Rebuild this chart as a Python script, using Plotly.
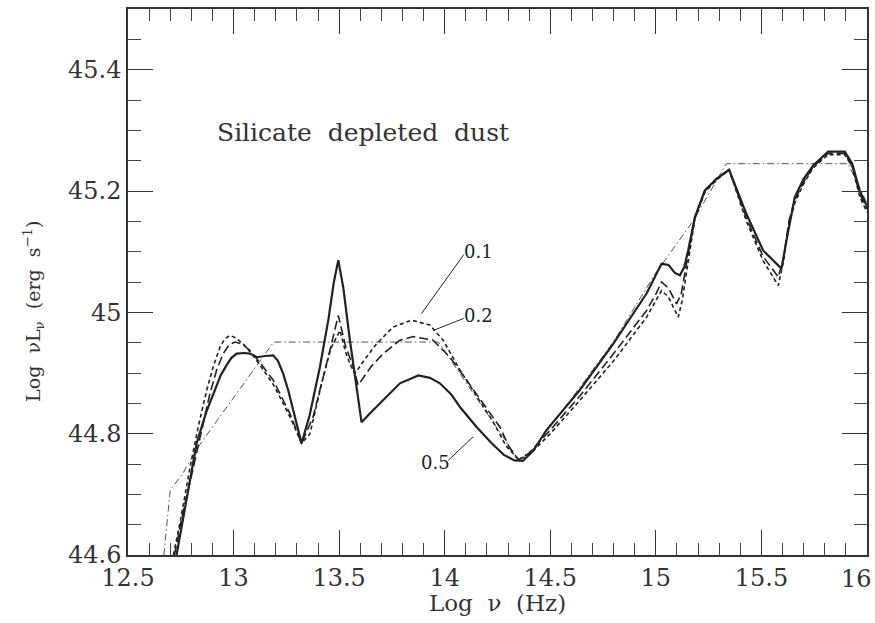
import plotly.graph_objects as go

# ---- data ----
x_05 = [12.73, 12.78, 12.825, 12.87, 12.904, 12.94, 12.967, 12.99, 13.015, 13.05, 13.078, 13.11, 13.15, 13.188,
        13.21, 13.235, 13.26, 13.283, 13.305, 13.322, 13.36, 13.409, 13.45, 13.475, 13.496, 13.52, 13.551, 13.58,
        13.606, 13.65, 13.709, 13.788, 13.875, 13.93, 13.977, 14.03, 14.072, 14.151, 14.22, 14.28, 14.33, 14.37,
        14.42, 14.482, 14.64, 14.798, 14.956, 15.0, 15.027, 15.06, 15.09, 15.114, 15.135, 15.153, 15.185, 15.232,
        15.287, 15.347, 15.429, 15.508, 15.595, 15.619, 15.658, 15.70, 15.745, 15.816, 15.895, 15.93, 15.966, 16.0]
y_05 = [44.60, 44.697, 44.784, 44.835, 44.866, 44.897, 44.913, 44.925, 44.932, 44.933, 44.932, 44.926, 44.928, 44.929,
        44.92, 44.899, 44.87, 44.839, 44.81, 44.784, 44.83, 44.91, 44.99, 45.05, 45.086, 45.04, 44.954, 44.88,
        44.819, 44.835, 44.855, 44.883, 44.896, 44.892, 44.883, 44.865, 44.844, 44.811, 44.785, 44.765, 44.756, 44.755,
        44.772, 44.806, 44.872, 44.948, 45.031, 45.06, 45.08, 45.078, 45.065, 45.061, 45.075, 45.102, 45.157, 45.201,
        45.22, 45.235, 45.162, 45.102, 45.072, 45.119, 45.19, 45.22, 45.242, 45.265, 45.265, 45.245, 45.2, 45.175]

x_02 = [12.72, 12.76, 12.81, 12.85, 12.888, 12.92, 12.951, 12.98, 13.007, 13.04, 13.078, 13.13, 13.188, 13.267,
        13.322, 13.377, 13.42, 13.456, 13.496, 13.53, 13.567, 13.59, 13.65, 13.709, 13.788, 13.85, 13.945, 14.025,
        14.104, 14.182, 14.261, 14.31, 14.35, 14.40, 14.5, 14.64, 14.8, 14.956, 15.0, 15.027, 15.06, 15.098, 15.12,
        15.15, 15.185, 15.232, 15.287, 15.347, 15.429, 15.508, 15.58, 15.605, 15.63, 15.658, 15.70, 15.745, 15.816,
        15.895, 15.93, 15.966, 16.0]
y_02 = [44.60, 44.67, 44.745, 44.81, 44.866, 44.905, 44.932, 44.947, 44.951, 44.948, 44.937, 44.915, 44.888, 44.833,
        44.784, 44.828, 44.885, 44.937, 44.995, 44.945, 44.91, 44.88, 44.91, 44.932, 44.954, 44.96, 44.954, 44.926,
        44.888, 44.85, 44.811, 44.775, 44.757, 44.768, 44.806, 44.862, 44.932, 45.003, 45.03, 45.05, 45.04, 45.014, 45.03,
        45.09, 45.155, 45.2, 45.22, 45.235, 45.155, 45.092, 45.058, 45.09, 45.15, 45.185, 45.215, 45.24, 45.262,
        45.262, 45.24, 45.195, 45.17]

x_01 = [12.715, 12.75, 12.794, 12.835, 12.873, 12.905, 12.936, 12.96, 12.983, 13.01, 13.046, 13.09, 13.141, 13.19,
        13.235, 13.28, 13.322, 13.362, 13.417, 13.46, 13.504, 13.53, 13.551, 13.575, 13.62, 13.677, 13.756, 13.843,
        13.93, 13.993, 14.072, 14.151, 14.23, 14.29, 14.35, 14.40, 14.5, 14.64, 14.8, 14.956, 15.0, 15.027, 15.06,
        15.106, 15.125, 15.155, 15.185, 15.232, 15.287, 15.347, 15.429, 15.508, 15.58, 15.605, 15.63, 15.658, 15.70,
        15.745, 15.816, 15.895, 15.93, 15.966, 16.0]
y_01 = [44.60, 44.66, 44.745, 44.815, 44.872, 44.912, 44.943, 44.957, 44.962, 44.958, 44.948, 44.93, 44.905, 44.88,
        44.85, 44.818, 44.784, 44.80, 44.883, 44.94, 44.97, 44.935, 44.915, 44.899, 44.922, 44.948, 44.976, 44.987,
        44.979, 44.954, 44.905, 44.861, 44.819, 44.78, 44.757, 44.765, 44.80, 44.855, 44.92, 44.992, 45.018, 45.036, 45.025,
        44.992, 45.02, 45.09, 45.155, 45.198, 45.218, 45.235, 45.15, 45.085, 45.044, 45.085, 45.145, 45.18, 45.212,
        45.238, 45.26, 45.26, 45.24, 45.19, 45.165]

x_dd = [12.67, 12.70, 12.76, 12.84, 13.19, 13.97, 14.35, 14.42, 14.5, 14.64, 14.8, 15.0, 15.177, 15.334, 15.91, 16.0]
y_dd = [44.60, 44.707, 44.735, 44.782, 44.951, 44.951, 44.757, 44.775, 44.812, 44.876, 44.952, 45.065, 45.151, 45.245,
        45.245, 45.18]

x_tickvals = [12.5, 13, 13.5, 14, 14.5, 15, 15.5, 16]
x_ticktext = ["12.5", "13", "13.5", "14", "14.5", "15", "15.5", "16"]
y_tickvals = [44.6, 44.8, 45.0, 45.2, 45.4]
y_ticktext = ["44.6", "44.8", "45", "45.2", "45.4"]

INK = "#222222"
FONT = "DejaVu Serif"

fig = go.Figure()
fig.add_trace(go.Scatter(x=x_dd, y=y_dd, mode="lines",
                         line=dict(color="#555555", width=1, dash="7px,3px,1.5px,3px"), name="dd"))
fig.add_trace(go.Scatter(x=x_01, y=y_01, mode="lines",
                         line=dict(color=INK, width=1.6, dash="4px,3px"), name="0.1"))
fig.add_trace(go.Scatter(x=x_02, y=y_02, mode="lines",
                         line=dict(color=INK, width=1.6, dash="9px,4px"), name="0.2"))
fig.add_trace(go.Scatter(x=x_05, y=y_05, mode="lines",
                         line=dict(color=INK, width=2.2), name="0.5"))

axis_common = dict(showgrid=False, zeroline=False, showline=True, linecolor="#333333", linewidth=1.5,
                   mirror="ticks", ticks="inside", ticklen=25, tickwidth=1.3, tickcolor="#333333",
                   automargin=False,
                   tickfont=dict(family=FONT, size=24, color="#333333"))

# the last x label sits at the page edge; draw it as an annotation kept inside the page
last_x_label = x_ticktext[-1]
x_ticktext_axis = x_ticktext[:-1] + [""]

fig.update_xaxes(range=[12.5, 16], tickvals=x_tickvals, ticktext=x_ticktext_axis,
                 minor=dict(dtick=0.1, tick0=12.5, ticks="inside", ticklen=12, tickwidth=1.2, tickcolor="#444444"),
                 **axis_common)
fig.update_yaxes(range=[44.6, 45.5], tickvals=y_tickvals, ticktext=y_ticktext,
                 minor=dict(dtick=0.05, tick0=44.6, ticks="inside", ticklen=13, tickwidth=1.2, tickcolor="#444444"),
                 **axis_common)

annots = [
    dict(x=13.613, y=45.296, xref="x", yref="y", text="Silicate&nbsp; depleted&nbsp; dust", showarrow=False,
         font=dict(family=FONT, size=25, color="#333333")),
    dict(x=14.16, y=45.10, xref="x", yref="y", text="0.1", showarrow=False,
         font=dict(family=FONT, size=18, color=INK)),
    dict(x=14.16, y=44.995, xref="x", yref="y", text="0.2", showarrow=False,
         font=dict(family=FONT, size=18, color=INK)),
    dict(x=13.955, y=44.752, xref="x", yref="y", text="0.5", showarrow=False,
         font=dict(family=FONT, size=18, color=INK)),
    dict(x=1, y=0, xref="paper", yref="paper", xanchor="right", yanchor="top", xshift=7, yshift=-8,
         text=last_x_label, showarrow=False, font=dict(family=FONT, size=24, color="#333333")),
    dict(x=0.5, y=-0.087, xref="paper", yref="paper", yanchor="middle", text="Log&nbsp; ν&nbsp; (Hz)",
         showarrow=False, font=dict(family=FONT, size=23, color="#333333")),
    dict(x=-0.128, y=0.446, xref="paper", yref="paper", xanchor="center", yanchor="middle", textangle=-90,
         text="Log&nbsp; νL<sub>ν</sub>&nbsp; (erg&nbsp; s<sup>−1</sup>)", showarrow=False,
         font=dict(family=FONT, size=19, color="#333333")),
]
fig.update_layout(annotations=annots)

leaders = [((14.09, 45.095), (13.89, 44.998)),
           ((14.09, 44.99), (13.945, 44.97)),
           ((14.017, 44.756), (14.135, 44.795))]
for (x0, y0), (x1, y1) in leaders:
    fig.add_shape(type="line", x0=x0, y0=y0, x1=x1, y1=y1, xref="x", yref="y",
                  line=dict(color=INK, width=1))

fig.update_layout(width=875, height=623, margin=dict(l=128, r=8, t=9, b=68, autoexpand=False),
                  paper_bgcolor="white", plot_bgcolor="white", showlegend=False)

fig.write_html("out.html")
